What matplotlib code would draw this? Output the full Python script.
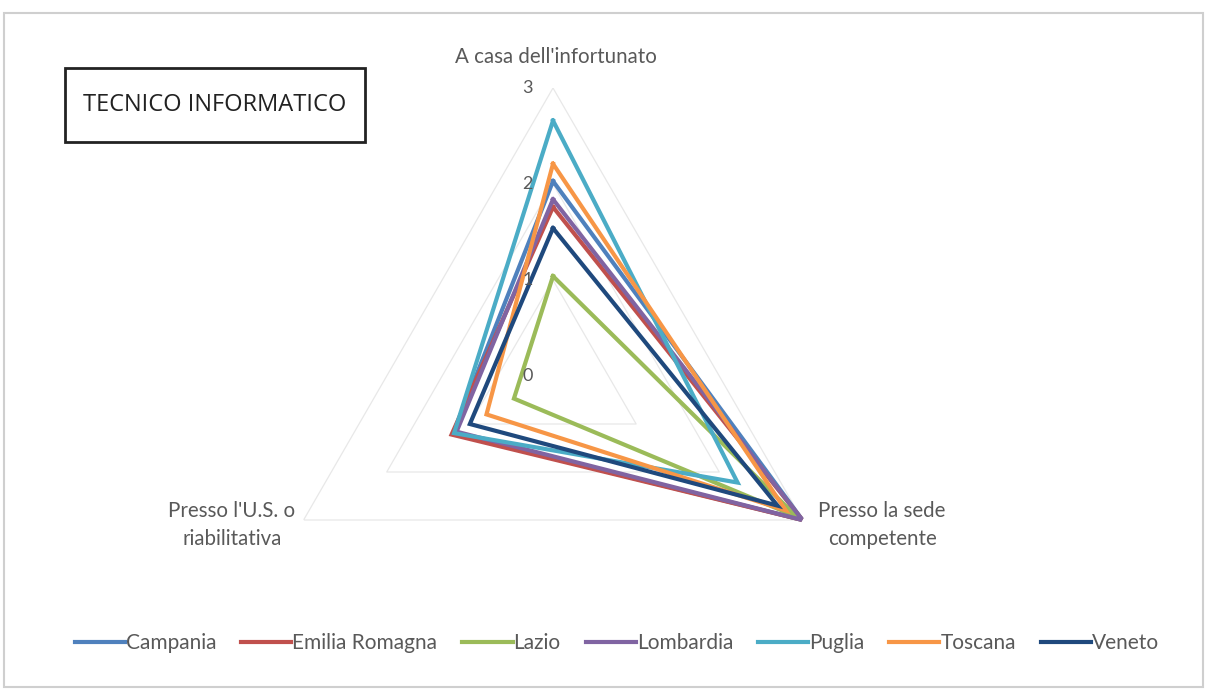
# Radar chart: TECNICO INFORMATICO
import numpy as np
import matplotlib.pyplot as plt
from matplotlib.lines import Line2D
from matplotlib.patches import Rectangle
from matplotlib.transforms import offset_copy

# Data
categories = ["A casa dell'infortunato", "Presso la sede\ncompetente", "Presso l'U.S. o\nriabilitativa"]
regions = ["Campania", "Emilia Romagna", "Lazio", "Lombardia", "Puglia", "Toscana", "Veneto"]
campania = [2.03, 3.0, 1.2]
emilia_romagna = [1.76, 3.0, 1.22]
lazio = [1.04, 2.93, 0.47]
lombardia = [1.84, 3.0, 1.16]
puglia = [2.66, 2.22, 1.19]
toscana = [2.21, 2.8, 0.8]
veneto = [1.54, 2.7, 1.0]
tick_values = [0, 1, 2, 3]

series = [campania, emilia_romagna, lazio, lombardia, puglia, toscana, veneto]
colors = ["#4F81BD", "#C0504D", "#9BBB59", "#8064A2", "#4BACC6", "#F79646", "#1F497D"]

text_color = "#595959"
font = "Lato"

fig = plt.figure(figsize=(12.06, 6.89), dpi=100)

# outer border of the picture
fig.patches.append(Rectangle((4 / 1206, 2 / 689), 1199 / 1206, 674 / 689,
                             transform=fig.transFigure, fill=False,
                             edgecolor="#cfcfcf", linewidth=1.5))

# polar axes centred at (553, 376) px, radius 288 px
ax = fig.add_axes([265 / 1206, 25 / 689, 576 / 1206, 576 / 689], projection="polar")
ax.set_theta_offset(np.pi / 2)
ax.set_theta_direction(-1)
ax.set_ylim(0, 3)
ax.grid(False)
ax.spines["polar"].set_visible(False)
ax.set_xticks([])
ax.set_yticks([])
ax.patch.set_alpha(0)

angles = np.linspace(0, 2 * np.pi, len(categories), endpoint=False)
closed = np.append(angles, angles[0])

# triangular gridlines (very faint in the original)
for r in tick_values[1:]:
    ax.plot(closed, [r] * len(closed), color="#e8e8e8", linewidth=0.9, zorder=1)

# series
for vals, col in zip(series, colors):
    ax.plot(closed, vals + vals[:1], color=col, linewidth=3.0, zorder=3,
            solid_joinstyle="miter")

# radial tick labels to the left of the top spoke
tick_tr = offset_copy(ax.transData, fig=fig, x=-20, y=0, units="dots")
for r in tick_values:
    ax.text(angles[0], r, str(r), transform=tick_tr, ha="right", va="center",
            fontsize=13, color=text_color, family=font, zorder=5)

# category labels
lab_size = 14.8
top_tr = offset_copy(ax.transData, fig=fig, x=3, y=31, units="dots")
ax.text(angles[0], 3, categories[0], transform=top_tr, ha="center", va="center",
        fontsize=lab_size, color=text_color, family=font)
right_tr = offset_copy(ax.transData, fig=fig, x=16, y=-5, units="dots")
ax.text(angles[1], 3, categories[1], transform=right_tr, ha="left", va="center",
        multialignment="center", fontsize=lab_size, color=text_color, family=font,
        linespacing=1.45)
left_tr = offset_copy(ax.transData, fig=fig, x=-8, y=-5, units="dots")
ax.text(angles[2], 3, categories[2], transform=left_tr, ha="right", va="center",
        multialignment="center", fontsize=lab_size, color=text_color, family=font,
        linespacing=1.45)

# title box
fig.text(215 / 1206, 1 - 105 / 689, "TECNICO INFORMATICO", ha="center", va="center",
         fontsize=17, color="#222222", family="Open Sans")
fig.patches.append(Rectangle((65 / 1206, 1 - 142 / 689), 300 / 1206, 74 / 689,
                             transform=fig.transFigure, fill=False,
                             edgecolor="#222222", linewidth=2))

# legend
handles = [Line2D([0], [0], color=c, linewidth=3) for c in colors]
leg = fig.legend(handles, regions, loc="center", bbox_to_anchor=(617 / 1206, 1 - 643 / 689),
                 ncol=7, frameon=False, handlelength=2.4, handletextpad=0.05,
                 columnspacing=1.2, fontsize=15)
for t in leg.get_texts():
    t.set_color(text_color)
    t.set_family(font)

plt.savefig("out.png", dpi=100)
